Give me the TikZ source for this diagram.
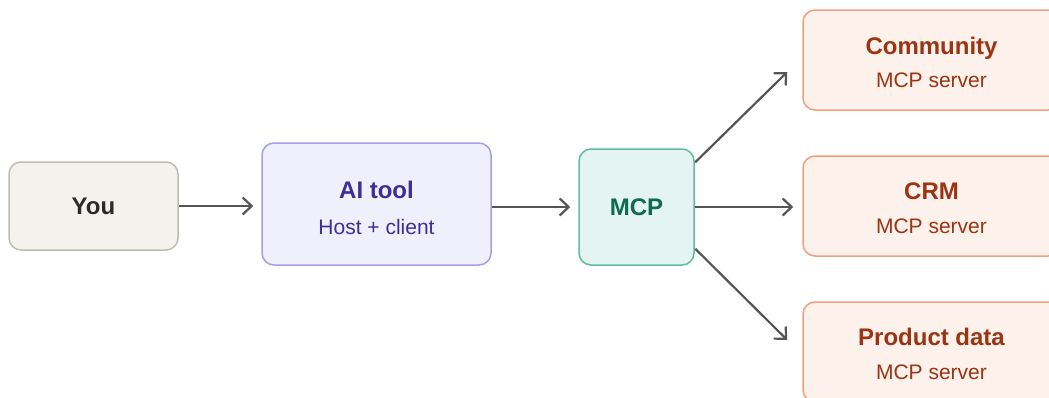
\documentclass[tikz,border=0pt]{standalone}
\usepackage{fontspec}
\setmainfont{Liberation Sans}
\usetikzlibrary{arrows.meta,calc}
\definecolor{youfill}{HTML}{F4F2ED}
\definecolor{youdraw}{HTML}{BFBCB2}
\definecolor{youtext}{HTML}{2B2B2B}
\definecolor{aifill}{HTML}{F0EFFC}
\definecolor{aidraw}{HTML}{A89EE3}
\definecolor{aitext}{HTML}{3E2F96}
\definecolor{mcpfill}{HTML}{E4F4F1}
\definecolor{mcpdraw}{HTML}{5DBE9F}
\definecolor{mcptext}{HTML}{0E6B4F}
\definecolor{srvfill}{HTML}{FDF1EC}
\definecolor{srvdraw}{HTML}{F0A07E}
\definecolor{srvtext}{HTML}{9A3412}
\definecolor{arrowc}{HTML}{555555}
\newcommand{\tfont}{\fontsize{24}{24}\selectfont\bfseries}
\newcommand{\sfontx}{\fontsize{21}{21}\selectfont}
\tikzset{
  boxbase/.style={rectangle, rounded corners=12pt, line width=1.5pt, inner sep=0pt, align=center},
  youbox/.style={boxbase, fill=youfill, draw=youdraw, text=youtext, minimum width=169pt, minimum height=88pt, font=\tfont},
  aibox/.style={boxbase, fill=aifill, draw=aidraw, text=aitext, minimum width=229pt, minimum height=122pt},
  mcpbox/.style={boxbase, fill=mcpfill, draw=mcpdraw, text=mcptext, minimum width=115pt, minimum height=116pt, font=\tfont},
  srvbox/.style={boxbase, fill=srvfill, draw=srvdraw, text=srvtext, minimum width=257pt, minimum height=100pt},
  ttl/.style={anchor=base, inner sep=0pt, font=\tfont},
  sub/.style={anchor=base, inner sep=0pt, font=\sfontx},
  conn/.style={draw=arrowc, line width=2.2pt, -{Straight Barb[length=9pt,width=17pt,line width=2.2pt]}},
}
\begin{document}
\begin{tikzpicture}[x=1pt,y=-1pt]
\useasboundingbox (0,0) rectangle (1049,397);
\clip (0,0) rectangle (1049,397);
\fill[white] (0,0) rectangle (1049,397);
\node[youbox] (you) at (93.5,206) {You};
\node[aibox] (ai) at (376.5,204) {};
\node[ttl, text=aitext] (ait) at ($(ai.center)+(0,-6)$) {AI tool};
\node[sub, text=aitext] (ais) at ($(ai.center)+(0,30)$) {Host + client};
\node[mcpbox] (mcp) at (636.5,207) {MCP};
\node[srvbox] (comm) at (931.5,60) {};
\node[ttl, text=srvtext] (commt) at ($(comm.center)+(0,-6)$) {Community};
\node[sub, text=srvtext] (comms) at ($(comm.center)+(0,27)$) {MCP server};
\node[srvbox] (crm) at (931.5,206) {};
\node[ttl, text=srvtext] (crmt) at ($(crm.center)+(0,-7)$) {CRM};
\node[sub, text=srvtext] (crms) at ($(crm.center)+(0,27)$) {MCP server};
\node[srvbox] (prod) at (931.5,352) {};
\node[ttl, text=srvtext] (prodt) at ($(prod.center)+(0,-7)$) {Product data};
\node[sub, text=srvtext] (prods) at ($(prod.center)+(0,27)$) {MCP server};
\draw[conn, shorten >=8pt] (you.east) -- (ai.west |- you.east);
\draw[conn, shorten >=8pt] (ai.east |- mcp.east) -- (mcp.west);
\draw[conn, shorten >=9pt] (mcp.east) -- (crm.west |- mcp.east);
\draw[conn] ($(mcp.north east)+(0.5,14)$) -- ($(comm.west)+(-15,12)$);
\draw[conn] ($(mcp.south east)+(0.5,-17)$) -- ($(prod.west)+(-15,-12)$);
\end{tikzpicture}
\end{document}
